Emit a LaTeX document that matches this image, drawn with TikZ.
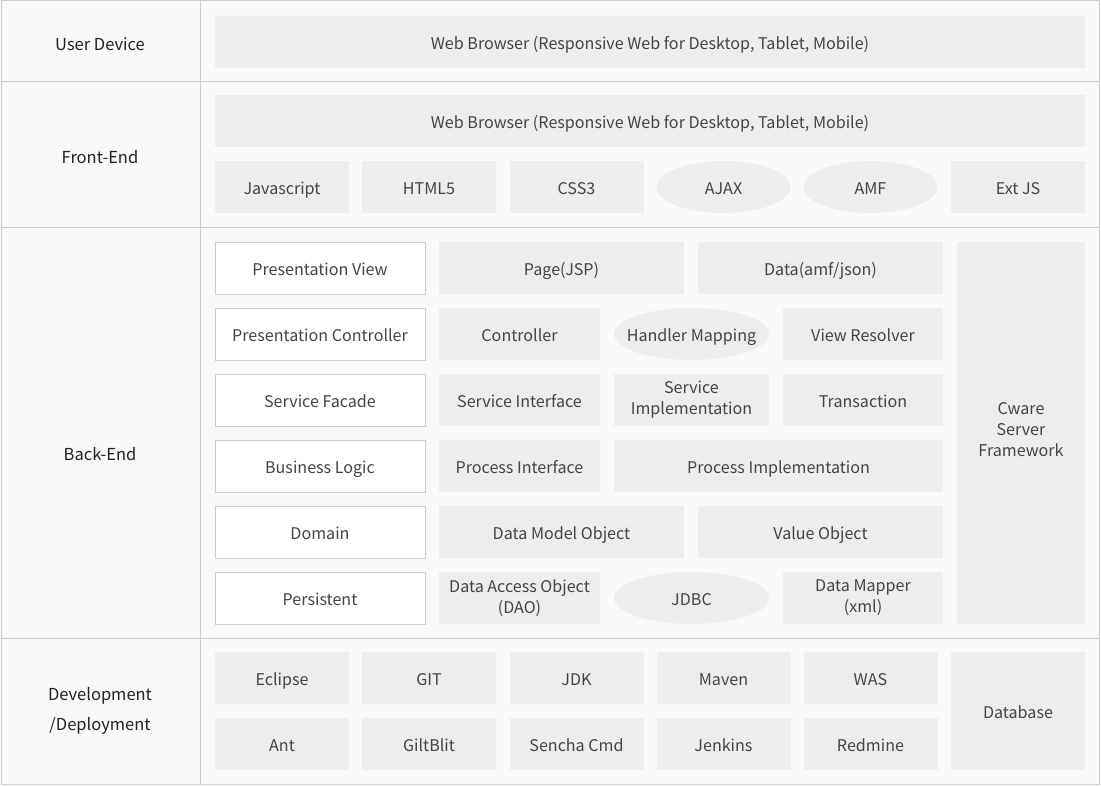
\documentclass[tikz,border=0pt]{standalone}
\usepackage{fontspec}
\setmainfont{Noto Sans CJK KR}
\usetikzlibrary{shapes.geometric}
\definecolor{bggray}{HTML}{F9F9F9}
\definecolor{boxgray}{HTML}{EDEDED}
\definecolor{linegray}{HTML}{CCCCCC}
\definecolor{txtgray}{HTML}{444444}
\definecolor{lblgray}{HTML}{222222}

\begin{document}
\begin{tikzpicture}[x = 1pt, y = -1pt,
    blk/.style = {fill=boxgray, inner sep=0pt, minimum height=52pt, align=center, text=txtgray,
                  text height=15pt, text depth=0pt, font=\fontsize{16.1}{21}\selectfont},
    multi/.style = {text height={}, text depth={}},
    oval/.style = {blk, ellipse, inner xsep=-25pt},
    layer/.style = {blk, fill=white, draw=linegray, line width=0.8pt, minimum width=210pt},
    lbl/.style = {align=center, text=lblgray, font=\fontsize{16.5}{30}\selectfont}]
    \useasboundingbox (0,0) rectangle (1101,786);
    \fill[bggray] (0,0) rectangle (1101,786);
    \draw[linegray, line width=1pt]
    (1,1) rectangle (1099,784)
    (1,82) -- (1099,82) (1,228) -- (1099,228) (1,638) -- (1099,638)
    (200,1) -- (200,784);
    % layer names
    \node[lbl] (ud) at (100,44) {User Device};
    \node[lbl] (fe) at (100,157) {Front-End};
    \node[lbl] (be) at (100,454) {Back-End};
    \node[lbl] (dd) at (100,711) {Development\\/Deployment};
    % user device
    \node[blk, minimum width=870pt] (udweb) at (650,42) {Web Browser (Responsive Web for Desktop, Tablet, Mobile)};
    % front-end
    \node[blk, minimum width=870pt] (feweb) at (650,121) {Web Browser (Responsive Web for Desktop, Tablet, Mobile)};
    \node[blk, minimum width=134pt] (js) at (282,187) {Javascript};
    \node[blk, minimum width=134pt] (html) at (429,187) {HTML5};
    \node[blk, minimum width=134pt] (css) at (576.5,187) {CSS3};
    \node[oval, minimum width=134pt] (ajax) at (723.5,187) {AJAX};
    \node[oval, minimum width=134pt] (amf) at (870.5,187) {AMF};
    \node[blk, minimum width=134pt] (extjs) at (1018,187) {Ext JS};
    % back-end
    \node[layer] (pview) at (320,268) {Presentation View};
    \node[layer] (pctrl) at (320,334) {Presentation Controller};
    \node[layer] (sfac) at (320,400) {Service Facade};
    \node[layer] (blogic) at (320,466) {Business Logic};
    \node[layer] (dom) at (320,532) {Domain};
    \node[layer] (pers) at (320,598) {Persistent};
    \node[blk, minimum width=245pt] (page) at (561.5,268) {Page(JSP)};
    \node[blk, minimum width=245pt] (data) at (820.5,268) {Data(amf/json)};
    \node[blk, minimum width=161pt] (ctrl) at (519.5,334) {Controller};
    \node[oval, minimum width=155pt] (hmap) at (691.5,334) {Handler Mapping};
    \node[blk, minimum width=160pt] (vres) at (863,334) {View Resolver};
    \node[blk, minimum width=161pt] (sif) at (519.5,400) {Service Interface};
    \node[blk, multi, minimum width=155pt] (simpl) at (691.5,400) {Service\\Implementation};
    \node[blk, minimum width=160pt] (trans) at (863,400) {Transaction};
    \node[blk, minimum width=161pt] (pif) at (519.5,466) {Process Interface};
    \node[blk, minimum width=329pt] (pimpl) at (778.5,466) {Process Implementation};
    \node[blk, minimum width=245pt] (dmo) at (561.5,532) {Data Model Object};
    \node[blk, minimum width=245pt] (vo) at (820.5,532) {Value Object};
    \node[blk, multi, minimum width=161pt] (dao) at (519.5,598) {Data Access Object\\(DAO)};
    \node[oval, minimum width=155pt] (jdbc) at (691.5,598) {JDBC};
    \node[blk, multi, minimum width=160pt] (dmap) at (863,598) {Data Mapper\\(xml)};
    \node[blk, multi, text depth=7pt, minimum width=128pt, minimum height=382pt] (cware) at (1021,433) {Cware\\Server\\Framework};
    % development / deployment
    \node[blk, minimum width=134pt] (eclipse) at (282,678) {Eclipse};
    \node[blk, minimum width=134pt] (git) at (429,678) {GIT};
    \node[blk, minimum width=134pt] (jdk) at (576.5,678) {JDK};
    \node[blk, minimum width=134pt] (maven) at (723.5,678) {Maven};
    \node[blk, minimum width=134pt] (was) at (870.5,678) {WAS};
    \node[blk, minimum width=134pt] (ant) at (282,744) {Ant};
    \node[blk, minimum width=134pt] (gitblit) at (429,744) {GiltBlit};
    \node[blk, minimum width=134pt] (sencha) at (576.5,744) {Sencha Cmd};
    \node[blk, minimum width=134pt] (jenkins) at (723.5,744) {Jenkins};
    \node[blk, minimum width=134pt] (redmine) at (870.5,744) {Redmine};
    \node[blk, minimum width=134pt, minimum height=118pt] (db) at (1018,711) {Database};
\end{tikzpicture}
\end{document}
